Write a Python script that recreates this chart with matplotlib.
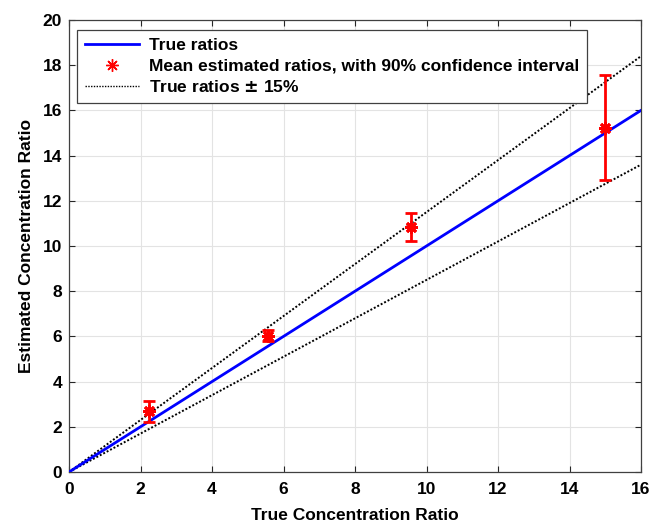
import matplotlib
matplotlib.use("Agg")
import matplotlib.pyplot as plt
from matplotlib.lines import Line2D
import numpy as np

plt.rcParams['font.family'] = ['Liberation Sans', 'DejaVu Sans']
plt.rcParams['font.weight'] = 'bold'

# Data
true_x = [0, 16]
points_x = [2.25, 5.58, 9.57, 15.0]
mean_est = [2.72, 6.02, 10.85, 15.2]
ci_low = [2.2, 5.78, 10.2, 12.9]
ci_high = [3.15, 6.28, 11.47, 17.55]
tol = 0.15
x_ticks = [0, 2, 4, 6, 8, 10, 12, 14, 16]
y_ticks = [0, 2, 4, 6, 8, 10, 12, 14, 16, 18, 20]

fig = plt.figure(figsize=(6.5, 5.24), dpi=100)
ax = fig.add_axes([69/650, 1 - 472/524, (641-69)/650, (472-20)/524])

tx = np.array(true_x, dtype=float)
ax.plot(tx, tx, color='#0000ff', lw=2.0, zorder=3)
ax.plot(tx, tx*(1+tol), color='black', lw=1.4, ls=(0, (1, 1)), zorder=2)
ax.plot(tx, tx*(1-tol), color='black', lw=1.4, ls=(0, (1, 1)), zorder=2)

m = np.array(mean_est)
yerr = [m - np.array(ci_low), np.array(ci_high) - m]
ax.errorbar(points_x, m, yerr=yerr, fmt='none', ecolor='#ff0000', elinewidth=2.0,
            capsize=4.5, capthick=2.0, zorder=4)
ax.plot(points_x, m, ls='none', marker=(8, 2, 0), markersize=9, mew=2.0,
        color='#ff0000', zorder=5)

ax.set_xlim(0, 16)
ax.set_ylim(0, 20)
ax.set_xticks(x_ticks)
ax.set_yticks(y_ticks)
ax.tick_params(axis='both', direction='in', top=True, right=True, labelsize=12.5,
               length=4, width=0.8, colors='#262626', labelcolor='black')
ax.tick_params(axis='x', pad=7)
ax.tick_params(axis='y', pad=5)
for lab in ax.get_xticklabels() + ax.get_yticklabels():
    lab.set_fontweight('bold')
ax.grid(True, color='#e3e3e3', lw=0.8)
ax.set_axisbelow(True)
for s in ax.spines.values():
    s.set_color('#404040')
    s.set_linewidth(0.9)

ax.set_xlabel('True Concentration Ratio', fontsize=12.5, fontweight='bold', labelpad=8)
ax.set_ylabel('Estimated Concentration Ratio', fontsize=12.5, fontweight='bold', labelpad=6)

handles = [
    Line2D([], [], color='#0000ff', lw=2.0),
    Line2D([], [], ls='none', marker=(8, 2, 0), markersize=9, mew=1.0, color='#ff0000'),
    Line2D([], [], color='black', lw=1.0, ls=(0, (1, 1))),
]
labels = ['True ratios', 'Mean estimated ratios, with 90% confidence interval',
          'True ratios $\\pm$ 15%']
leg = ax.legend(handles, labels, loc='upper left', bbox_to_anchor=(0.014, 0.978),
                prop={'weight': 'bold', 'size': 12.5}, fancybox=False,
                framealpha=1, edgecolor='#404040', handlelength=3.1,
                handletextpad=0.6, borderpad=0.45, labelspacing=0.32, borderaxespad=0)
leg.get_frame().set_linewidth(0.9)

fig.savefig('out.png', dpi=100)
